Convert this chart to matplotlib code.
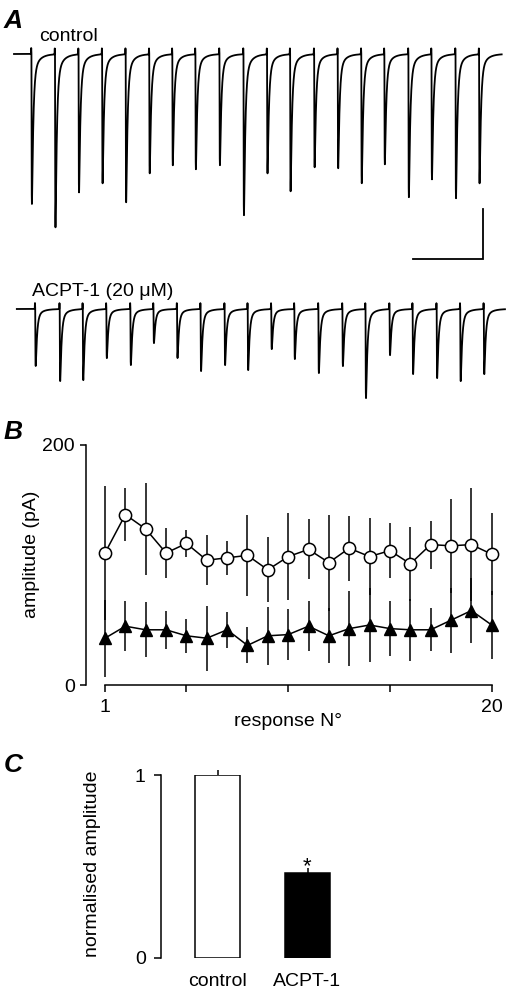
"""
Three-panel figure: example EPSC trains (A), amplitude per response (B),
normalised amplitude bar chart (C).
"""

import numpy as np
import matplotlib

matplotlib.use("Agg")
import matplotlib.pyplot as plt

plt.rcParams["font.family"] = ["Liberation Sans", "DejaVu Sans"]

# ---- data -----------------------------------------------------------------
# Panel A: peak times (ms) and peak amplitudes (pA) of the example trains
ctrl_peak_ms = [38, 88, 138, 188, 238, 288, 337, 386, 437, 488,
                538, 587, 638, 688, 738, 787, 838, 887, 938, 988]
ctrl_peak_pA = [150, 173, 138, 129, 148, 119, 111, 115, 111, 161,
                119, 137, 113, 114, 129, 110, 143, 125, 144, 129]
acpt_peak_ms = [46, 98, 147, 197, 248, 297, 347, 397, 448, 497,
                547, 596, 647, 698, 747, 798, 847, 898, 948, 998]
acpt_peak_pA = [57, 72, 71, 49, 56, 34, 49, 62, 56, 61,
                40, 50, 64, 57, 89, 46, 65, 69, 72, 65]
ctrl_span_ms = (0, 1035)
acpt_span_ms = (6, 1042)
scalebar_ms = 150
scalebar_pA = 50

# Panel B: mean +/- SEM amplitude per response number
resp_no = list(range(1, 21))
ctrl_mean = [110, 142, 130, 110, 118, 104, 106, 108, 96, 107,
             113, 102, 114, 107, 112, 101, 117, 116, 117, 109]
ctrl_sem = [56, 22, 38, 21, 11, 21, 14, 34, 27, 36,
            25, 40, 27, 32, 23, 31, 20, 39, 47, 34]
acpt_mean = [39, 49, 46, 46, 41, 39, 46, 33, 41, 42,
             49, 41, 47, 50, 47, 46, 46, 54, 62, 50]
acpt_sem = [32, 21, 23, 16, 14, 27, 15, 15, 24, 21,
            21, 23, 31, 31, 23, 26, 18, 27, 27, 28]

# Panel C: normalised amplitude
groups = ["control", "ACPT-1"]
norm_mean = [1.0, 0.462]
norm_sem = [0.027, 0.027]

# ---- layout helpers (figure pixels) ----------------------------------------
W, H = 507, 991
fig = plt.figure(figsize=(W / 100, H / 100), dpi=100)


def px_axes(x0, y0, x1, y1):
    return fig.add_axes([x0 / W, 1 - y1 / H, (x1 - x0) / W, (y1 - y0) / H])


def fx(x):
    return x / W


def fy(y):
    return 1 - y / H


LW = 1.1
FS = 14
PANEL_FS = 19

# ---- panel A: traces -------------------------------------------------------
TAU_RISE, TAU_FAST, TAU_SLOW, SLOW_FRAC = 0.5, 2.8, 12.0, 0.1
ARTEFACT_PA = 6.0


def kernel(s):
    sp = np.clip(s, 0, None)
    k = (1 - np.exp(-sp / TAU_RISE)) * (
        (1 - SLOW_FRAC) * np.exp(-sp / TAU_FAST) + SLOW_FRAC * np.exp(-sp / TAU_SLOW)
    )
    return np.where(s > 0, k, 0.0)


_s = np.linspace(0, 40, 8001)
_k = kernel(_s)
PEAK_LAG, K_NORM = _s[np.argmax(_k)], _k.max()


def build_trace(span, peak_times, amps):
    t = np.arange(span[0], span[1], 0.05)
    y = np.zeros_like(t)
    for tp, a in zip(peak_times, amps):
        onset = tp - PEAK_LAG
        y -= a * kernel(t - onset) / K_NORM
        y += ARTEFACT_PA * np.exp(-(((t - (onset - 0.5)) / 0.35) ** 2))
    return t, y


PX_PER_MS = 0.4712
X0_PX = 14
xlim_ms = (-X0_PX / PX_PER_MS, (W - X0_PX) / PX_PER_MS)

ax_c = px_axes(0, 0, W, 270)
ax_c.set_xlim(*xlim_ms)
ax_c.set_ylim(-(270 - 54), 54)
t, y = build_trace(ctrl_span_ms, ctrl_peak_ms, ctrl_peak_pA)
ax_c.plot(t, y, color="k", lw=1.3)
# scale bar
sb_t, sb_y = 996, -205
ax_c.plot([sb_t - scalebar_ms, sb_t, sb_t], [sb_y, sb_y, sb_y + scalebar_pA],
          color="k", lw=1.3, solid_joinstyle="miter")
ax_c.axis("off")

ax_a = px_axes(0, 270, W, 420)
ax_a.set_xlim(*xlim_ms)
ax_a.set_ylim(-(420 - 309), 309 - 270)
t, y = build_trace(acpt_span_ms, acpt_peak_ms, acpt_peak_pA)
ax_a.plot(t, y, color="k", lw=1.3)
ax_a.axis("off")

fig.text(fx(39), fy(41), "control", fontsize=FS, va="baseline")
fig.text(fx(32), fy(296), "ACPT-1 (20 \u03bcM)", fontsize=FS, va="baseline")

# ---- panel B ---------------------------------------------------------------
ax_b = px_axes(105, 445, 491.7, 685)
ax_b.set_xlim(1, 20)
ax_b.set_ylim(0, 200)
ax_b.errorbar(resp_no, ctrl_mean, yerr=ctrl_sem, fmt="none", ecolor="k",
              elinewidth=LW, capsize=0, zorder=1, clip_on=False)
ax_b.errorbar(resp_no, acpt_mean, yerr=acpt_sem, fmt="none", ecolor="k",
              elinewidth=LW, capsize=0, zorder=1, clip_on=False)
ax_b.plot(resp_no, acpt_mean, "-^", color="k", lw=LW, ms=8.6, zorder=3, clip_on=False)
ax_b.plot(resp_no, ctrl_mean, "-o", color="k", mfc="white", mec="k", mew=LW,
          lw=LW, ms=8.8, zorder=4, clip_on=False)

for side in ("top", "right"):
    ax_b.spines[side].set_visible(False)
ax_b.spines["left"].set_position(("outward", 19 * 0.72))
ax_b.spines["left"].set_bounds(0, 200)
ax_b.spines["bottom"].set_bounds(1, 20)
for sp in ("left", "bottom"):
    ax_b.spines[sp].set_linewidth(LW)
ax_b.set_yticks([0, 200])
ax_b.set_xticks([1, 5, 10, 15, 20], labels=["1", "", "", "", "20"])
ax_b.tick_params(axis="y", direction="out", length=4.3, width=LW, pad=3.6, labelsize=FS)
ax_b.tick_params(axis="x", direction="out", length=5, width=LW, pad=5, labelsize=FS)

ax_b.set_ylabel("amplitude (pA)", fontsize=FS, va="center", ha="center")
ax_b.yaxis.set_label_coords(fx(32), fy(554), transform=fig.transFigure)
ax_b.set_xlabel("response N\u00b0", fontsize=FS, va="center", ha="center")
ax_b.xaxis.set_label_coords(fx(288), fy(721), transform=fig.transFigure)

# ---- panel C ---------------------------------------------------------------
ax_n = px_axes(160.7, 775, 420, 957.7)
ax_n.set_xlim((160.7 - 217.5) / 90, (420 - 217.5) / 90)
ax_n.set_ylim(0, 1)
xpos = np.arange(len(groups))
ax_n.bar(xpos, norm_mean, width=0.5, color=["white", "black"], edgecolor="k",
         linewidth=LW, zorder=2)
ax_n.vlines(xpos, norm_mean, np.add(norm_mean, norm_sem), color="k", lw=LW,
            zorder=1, clip_on=False)
ax_n.annotate("*", xy=(xpos[1], norm_mean[1] + norm_sem[1]), xytext=(0, -6.5),
              textcoords="offset points", ha="center", va="bottom", fontsize=16)

for side in ("top", "right", "bottom"):
    ax_n.spines[side].set_visible(False)
ax_n.spines["left"].set_linewidth(LW)
ax_n.spines["left"].set_bounds(0, 1)
ax_n.set_yticks([0, 1])
ax_n.set_xticks(xpos, labels=groups)
ax_n.tick_params(axis="y", direction="out", length=4.8, width=LW, pad=6, labelsize=FS)
ax_n.tick_params(axis="x", length=0, pad=11, labelsize=FS)
ax_n.set_ylabel("normalised amplitude", fontsize=FS, va="center", ha="center")
ax_n.yaxis.set_label_coords(fx(92.6), fy(863.5), transform=fig.transFigure)

# ---- panel letters -----------------------------------------------------------
for letter, ybase in (("A", 27.7), ("B", 439.3), ("C", 772)):
    fig.text(fx(4), fy(ybase), letter, fontsize=PANEL_FS, fontweight="bold",
             fontstyle="italic", va="baseline")

fig.savefig("out.png", dpi=100)
